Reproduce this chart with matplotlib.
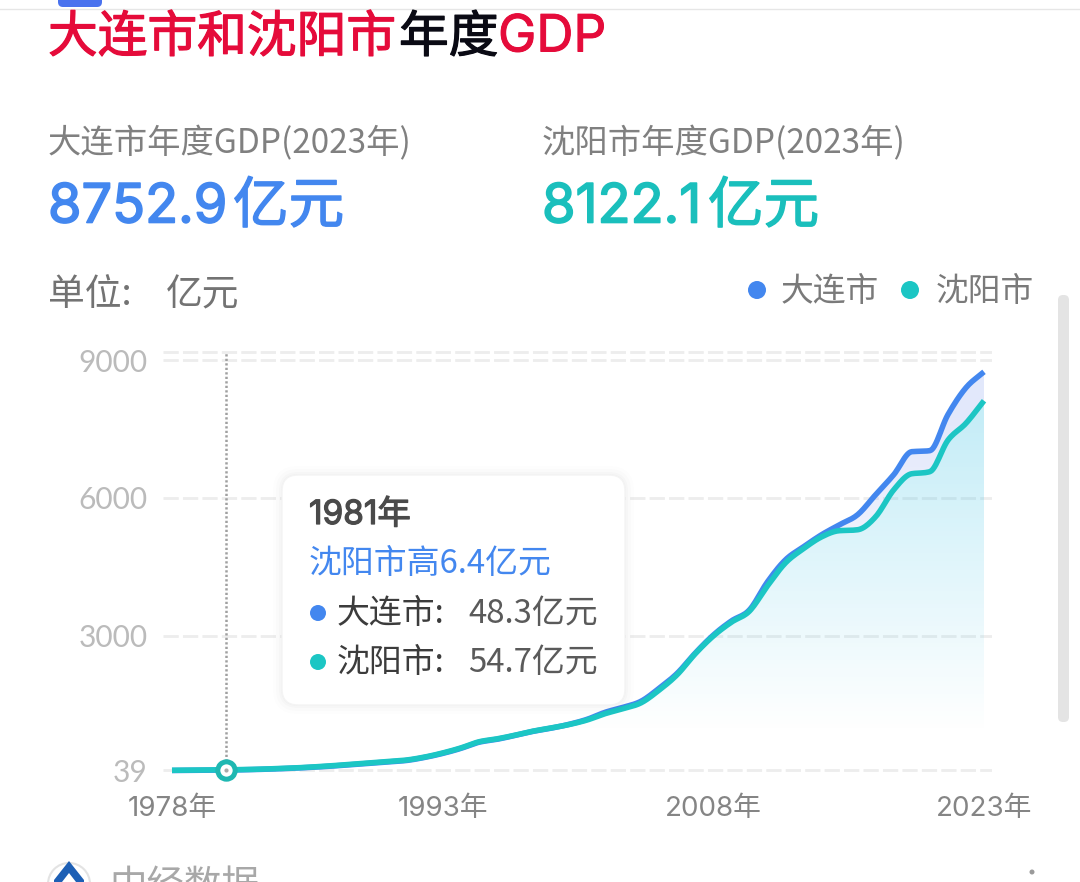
import numpy as np
import matplotlib
matplotlib.use("Agg")
import matplotlib.pyplot as plt
import matplotlib.patheffects as pe
from matplotlib.patches import FancyBboxPatch, Circle, Polygon

plt.rcParams['font.family'] = ['Noto Sans CJK SC', 'DejaVu Sans']

years = list(range(1978, 2024))
dalian = [39, 42, 45, 48.3, 55, 65, 78, 95, 115, 140, 170, 200, 230, 260, 327, 415, 525, 660, 725, 810,
          900, 970, 1055, 1165, 1320, 1430, 1565, 1850, 2180, 2625, 3020, 3327, 3567, 4177, 4657, 4940,
          5202, 5420, 5638, 6074, 6510, 7011, 7033, 7818, 8406, 8752.9]
shenyang = [44, 47, 51, 54.7, 60, 70, 84, 100, 122, 148, 178, 208, 238, 270, 335, 425, 535, 670, 735, 815,
            905, 975, 1050, 1150, 1290, 1400, 1530, 1810, 2150, 2610, 3000, 3300, 3540, 4090, 4590, 4900,
            5155, 5290, 5310, 5595, 6180, 6530, 6575, 7260, 7630, 8122.1]
y_ticks = [39, 3000, 6000, 9000]
y_ticklabels = ['39', '3000', '6000', '9000']
x_ticks = [1978, 1993, 2008, 2023]
x_ticklabels = ['1978年', '1993年', '2008年', '2023年']
grid_top = 9175
hover_year = 1981

W, H = 1080, 882
BLUE = '#4387EF'
TEAL = '#1CC6C4'
RED = '#E50B3A'
CJK = 'Noto Sans CJK SC'

fig = plt.figure(figsize=(W / 100, H / 100), dpi=100, facecolor='white')

# piecewise axis: the reference's tick spacing is not quite linear near the bottom
_vals = np.array([-3000.0, 39, 3000, 6000, 9000, 15000])
_pix = np.array([908.0, 770.5, 636, 498, 360.5, 85.5])


def fwd(v):
    return -np.interp(v, _vals, _pix)


def inv(p):
    return np.interp(-np.asarray(p), _pix[::-1], _vals[::-1])


ax_l, ax_r, ax_t, ax_b = 163, 992, 340, 782
ax = fig.add_axes([ax_l / W, 1 - ax_b / H, (ax_r - ax_l) / W, (ax_b - ax_t) / H])
ax.patch.set_alpha(0)
ax.set_yscale('function', functions=(fwd, inv))
px_per_year = (984 - 172) / 45
ax.set_xlim(1978 - (172 - ax_l) / px_per_year, 2023 + (ax_r - 984) / px_per_year)
ax.set_ylim(float(inv(-ax_b)), float(inv(-ax_t)))

for s in ax.spines.values():
    s.set_visible(False)
ax.set_yticks(y_ticks, y_ticklabels, fontsize=21.5, color='#BBBBBB', family=['Lato', CJK])
ax.set_xticks(x_ticks, x_ticklabels, fontsize=20, color='#858585', family=['Inter', CJK])
ax.tick_params(axis='y', length=0, pad=11)
ax.tick_params(axis='x', length=0, pad=10)
ax.minorticks_off()
grid_style = dict(color='#EDEDED', lw=2.0, dashes=(5.5, 1.5), zorder=1)
for v in y_ticks + [grid_top]:
    ax.axhline(v, **grid_style)


def smooth(x, y, n=12):
    # monotone cubic pass so the drawn line bends like the reference's without overshoot
    x = np.asarray(x, float)
    y = np.asarray(y, float)
    h = np.diff(x)
    d = np.diff(y) / h
    m = np.r_[d[0], (d[:-1] + d[1:]) / 2, d[-1]]
    for i in range(len(d)):
        if d[i] == 0:
            m[i] = m[i + 1] = 0
        else:
            a, b = m[i] / d[i], m[i + 1] / d[i]
            r = np.hypot(a, b)
            if r > 3:
                m[i] = 3 * a / r * d[i]
                m[i + 1] = 3 * b / r * d[i]
    t = np.linspace(0, 1, n, endpoint=False)[:, None]
    h00 = 2 * t ** 3 - 3 * t ** 2 + 1
    h10 = t ** 3 - 2 * t ** 2 + t
    h01 = -2 * t ** 3 + 3 * t ** 2
    h11 = t ** 3 - t ** 2
    xx = (x[:-1] + t * h).T.ravel()
    yy = (h00 * y[:-1] + h10 * h * m[:-1] + h01 * y[1:] + h11 * h * m[1:]).T.ravel()
    return np.r_[xx, x[-1]], np.r_[yy, y[-1]]


xb, yb = smooth(years, dalian)
xs, ys = smooth(years, shenyang)


def gradient(x, y_up, y_low, rgb, top_alpha, zorder):
    poly = ax.fill_between(x, y_up, y_low, color='none', lw=0)
    g = np.zeros((256, 2, 4))
    g[..., :3] = rgb
    frac = np.linspace(1, 0, 256)
    g[..., 3] = (top_alpha * np.clip((frac - 0.11) / 0.72, 0, 1))[:, None]
    im = ax.imshow(g, extent=(0, 1, 0, 1), transform=ax.transAxes, aspect='auto',
                   interpolation='bilinear', zorder=zorder)
    im.set_clip_path(poly.get_paths()[0], ax.transData)


xl, yl = ax.get_xlim(), ax.get_ylim()
gradient(xb, yb, ys, (0.26, 0.40, 0.90), 0.15, 2)
gradient(xs, ys, y_ticks[0], (0.22, 0.76, 0.90), 0.29, 3)
ax.set_xlim(xl)
ax.set_ylim(yl)

ax.plot([hover_year, hover_year], [y_ticks[0], grid_top], color='#A0A0A0', lw=1.8,
        dashes=(0.9, 0.9), zorder=4)
ax.plot(xb, yb, color=BLUE, lw=4, solid_capstyle='butt', zorder=5)
ax.plot(xs, ys, color=TEAL, lw=4, solid_capstyle='butt', zorder=6)
ax.plot([hover_year], [dalian[years.index(hover_year)]], marker='o', ms=12.5, mfc='white',
        mec='#1FB8B2', mew=3.6, zorder=7)
ax.plot([hover_year], [dalian[years.index(hover_year)]], marker='o', ms=3, mfc='#AAAAAA',
        mec='none', zorder=8)

# overlay in pixel coordinates for the page furniture
ov = fig.add_axes([0, 0, 1, 1], zorder=10)
ov.set_xlim(0, W)
ov.set_ylim(H, 0)
ov.axis('off')
ov.patch.set_alpha(0)


def t(x, y, s, size, color, ha='left', family=CJK, stroke=0.0, weight='normal'):
    txt = ov.text(x, y + 6, s, fontsize=size, color=color, ha=ha, va='center',
                  family=[family, CJK], fontweight=weight)
    if stroke:
        txt.set_path_effects([pe.withStroke(linewidth=stroke, foreground=color)])


# top bar
ov.plot([0, W], [8.5, 8.5], color='#E6E6E6', lw=1)
ov.add_patch(FancyBboxPatch((58, -6), 44, 13, boxstyle='round,pad=0,rounding_size=5',
                            fc='#4A72EE', ec='none'))

# title
t(48, 32, '大连市和沈阳市', 35.8, RED, stroke=0.9)
t(399, 32, '年度', 35.8, '#0A0A14', stroke=0.9)
t(498, 32, 'GDP', 37, RED, family='Inter', stroke=0.7)

# key figures
t(48, 138, '大连市年度GDP(2023年)', 24, '#808080')
t(542, 138, '沈阳市年度GDP(2023年)', 24, '#808080')
t(48, 202, '8752.9', 39, BLUE, family='Inter', stroke=1.2)
t(233, 201, '亿元', 40, BLUE, stroke=1.0)
t(542, 202, '8122.1', 39, '#1ABFBC', family='Inter', stroke=1.2)
t(708, 201, '亿元', 40, '#1ABFBC', stroke=1.0)
t(48, 289, '单位:', 26.5, '#737373')
t(166, 289, '亿元', 26.5, '#737373')

# legend
ov.add_patch(Circle((757, 290), 9, fc=BLUE, ec='none'))
ov.add_patch(Circle((910, 290), 9, fc=TEAL, ec='none'))
t(781, 286, '大连市', 23.6, '#7A7A7A')
t(936, 286, '沈阳市', 23.6, '#7A7A7A')

# scrollbar
ov.add_patch(FancyBboxPatch((1058, 295), 11, 427, boxstyle='round,pad=0,rounding_size=5',
                            fc='#E4E4E4', ec='none'))

# tooltip
for pad, a in [(9, 0.008), (6, 0.012), (3, 0.016), (1, 0.02)]:
    ov.add_patch(FancyBboxPatch((282 - pad, 475 - pad), 343 + 2 * pad, 230 + 2 * pad,
                                boxstyle=f'round,pad=0,rounding_size={16 + pad}',
                                fc='black', ec='none', alpha=a))
ov.add_patch(FancyBboxPatch((282, 475), 343, 230, boxstyle='round,pad=0,rounding_size=16',
                            fc='white', ec='#F4F4F4', lw=1))
t(309, 509, '1981年', 24, '#4A4A4A', family='Inter', stroke=0.9)
t(309, 558, '沈阳市高6.4亿元', 23.7, BLUE)
ov.add_patch(Circle((318, 613), 8, fc=BLUE, ec='none'))
ov.add_patch(Circle((318, 662), 8, fc=TEAL, ec='none'))
t(337, 608, '大连市:', 23.7, '#3C3C3C')
t(468, 608, '48.3亿元', 23.7, '#5A5A5A')
t(337, 657, '沈阳市:', 23.7, '#3C3C3C')
t(468, 657, '54.7亿元', 23.7, '#5A5A5A')

# footer
ov.add_patch(Circle((69, 884), 21, fc='white', ec='#E3E3E3', lw=1.5))
ov.add_patch(Polygon([(69, 861), (84, 880), (84, 890), (54, 890), (54, 880)], fc='#1D5FB5', ec='none'))
ov.add_patch(Polygon([(69, 873), (76, 882), (69, 890), (62, 882)], fc='white', ec='none'))
t(109, 880, '中经数据', 27, '#A8A8A8')
ov.add_patch(Circle((1032, 872), 2.5, fc='#9A9A9A', ec='none'))

fig.savefig('out.png', dpi=100)
